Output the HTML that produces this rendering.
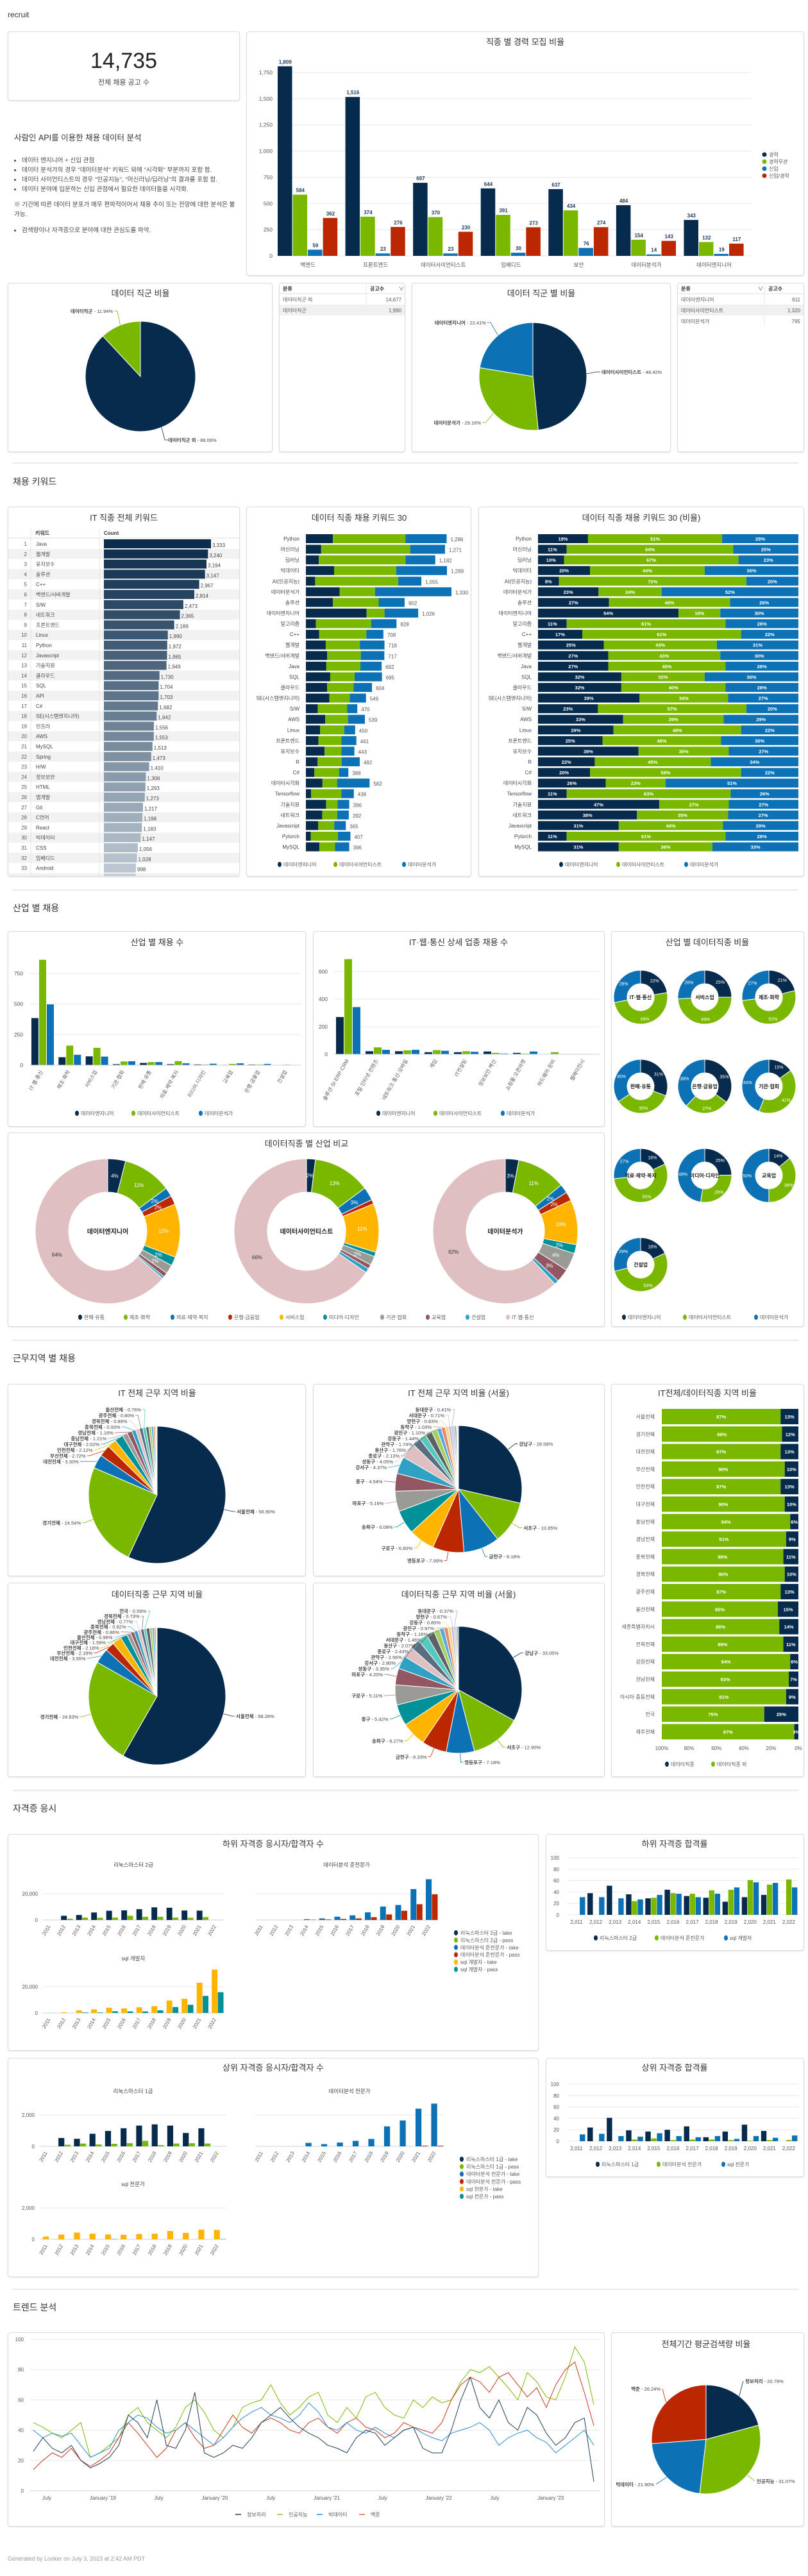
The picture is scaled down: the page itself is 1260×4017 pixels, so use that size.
<!DOCTYPE html>
<html><head><meta charset="utf-8">
<style>
html,body{margin:0;padding:0;background:#fff;}
body{width:1260px;height:4017px;position:relative;overflow:hidden;font-family:"Liberation Sans","Noto Sans CJK KR",sans-serif;color:#333;}
.card{position:absolute;background:#fff;border:1px solid #dcdcdc;border-radius:4px;box-shadow:0 1px 2px rgba(0,0,0,.12);box-sizing:border-box;}
.div{position:absolute;left:20px;width:1225px;height:2px;background:#e6e9ed;}
.sec{position:absolute;left:20px;font-size:14px;color:#333;}
#chart{position:absolute;left:0;top:0;z-index:2;}
.txt{position:absolute;left:20px;top:208px;width:350px;font-size:9.6px;line-height:15px;color:#444;z-index:3}
.txt h3{font-size:12.5px;font-weight:normal;margin:0 0 20px 2px;color:#333}
.txt ul{margin:0;padding-left:14px}
.txt p{margin:9px 0 10px 2px}
</style></head><body>
<div style="position:absolute;left:12px;top:16px;font-size:12px;color:#333">recruit</div>
<div class="card" style="left:12px;top:49px;width:362px;height:108px">
 <div style="position:absolute;left:0;width:100%;top:26px;text-align:center;font-size:34px;color:#222">14,735</div>
 <div style="position:absolute;left:0;width:100%;top:70px;text-align:center;font-size:11px;color:#444">전체 채용 공고 수</div>
</div>
<div class="txt">
<h3>사람인 API를 이용한 채용 데이터 분석</h3>
<ul><li>데이터 엔지니어 + 신입 관점</li><li>데이터 분석가의 경우 "데이터분석" 키워드 외에 "시각화" 부분까지 포함 함.</li><li>데이터 사이언티스트의 경우 "인공지능", "머신러닝/딥러닝"의 결과를 포함 함.</li><li>데이터 분야에 입문하는 신입 관점에서 필요한 데이터들을 시각화.</li></ul>
<p>※ 기간에 따른 데이터 분포가 매우 편파적이어서 채용 추이 또는 전망에 대한 분석은 불가능.</p>
<ul><li>검색량이나 자격증으로 분야에 대한 관심도를 파악.</li></ul>
</div>
<div class="card" style="left:384px;top:49px;width:870px;height:381px"></div>
<div class="card" style="left:12px;top:441px;width:413px;height:264px"></div>
<div class="card" style="left:435px;top:441px;width:197px;height:264px"></div>
<div class="card" style="left:642px;top:441px;width:404px;height:264px"></div>
<div class="card" style="left:1056px;top:441px;width:198px;height:264px"></div>
<div class="div" style="top:721px"></div>
<div class="sec" style="top:741px">채용 키워드</div>
<div class="card" style="left:12px;top:790px;width:362px;height:577px"></div>
<div class="card" style="left:384px;top:790px;width:351px;height:577px"></div>
<div class="card" style="left:746px;top:790px;width:508px;height:577px"></div>
<div class="div" style="top:1387px"></div>
<div class="sec" style="top:1406px">산업 별 채용</div>
<div class="card" style="left:12px;top:1452px;width:465px;height:305px"></div>
<div class="card" style="left:488px;top:1452px;width:455px;height:305px"></div>
<div class="card" style="left:953px;top:1452px;width:301px;height:617px"></div>
<div class="card" style="left:12px;top:1766px;width:931px;height:303px"></div>
<div class="div" style="top:2089px"></div>
<div class="sec" style="top:2108px">근무지역 별 채용</div>
<div class="card" style="left:12px;top:2158px;width:465px;height:300px"></div>
<div class="card" style="left:488px;top:2158px;width:455px;height:300px"></div>
<div class="card" style="left:953px;top:2158px;width:301px;height:613px"></div>
<div class="card" style="left:12px;top:2468px;width:465px;height:303px"></div>
<div class="card" style="left:488px;top:2468px;width:455px;height:303px"></div>
<div class="div" style="top:2791px"></div>
<div class="sec" style="top:2810px">자격증 응시</div>
<div class="card" style="left:12px;top:2860px;width:828px;height:338px"></div>
<div class="card" style="left:851px;top:2860px;width:403px;height:182px"></div>
<div class="card" style="left:12px;top:3209px;width:828px;height:342px"></div>
<div class="card" style="left:851px;top:3209px;width:403px;height:186px"></div>
<div class="div" style="top:3569px"></div>
<div class="sec" style="top:3588px">트렌드 분석</div>
<div class="card" style="left:12px;top:3637px;width:931px;height:303px"></div>
<div class="card" style="left:953px;top:3637px;width:301px;height:303px"></div>
<div style="position:absolute;left:12px;top:3985px;font-size:9px;color:#999">Generated by Looker on July 3, 2023 at 2:42 AM PDT</div>

<svg id="chart" width="1260" height="4017" xmlns="http://www.w3.org/2000/svg" font-family="Liberation Sans, Noto Sans CJK KR, sans-serif">
<defs><clipPath id="kwclip"><rect x="13" y="838" width="360" height="528"/></clipPath></defs>
</svg>
<script>
// ---------- DATA ----------
const careerCats=['백엔드','프론트엔드','데이터사이언티스트','임베디드','보안','데이터분석가','데이터엔지니어'];
const careerExp=[1809,1516,697,644,637,484,343];
const careerAny=[584,374,370,391,434,154,132];
const careerNew=[59,23,23,30,76,14,19];
const careerBoth=[362,276,230,273,274,143,117];
const careerTicks=[0,250,500,750,1000,1250,1500,1750];
const careerSeries=['경력','경력무관','신입','신입/경력'];

const jobGroupNames=['데이터직군 외','데이터직군'];
const jobGroupVals=[14677,1990];
const dataRoleNames=['데이터사이언티스트','데이터분석가','데이터엔지니어'];
const dataRoleVals=[1320,795,611];
const dataRoleTableNames=['데이터엔지니어','데이터사이언티스트','데이터분석가'];
const dataRoleTableVals=[611,1320,795];

const itKeywords=['Java','웹개발','유지보수','솔루션','C++','백엔드/서버개발','S/W','네트워크','프론트엔드','Linux','Python','Javascript','기술지원','클라우드','SQL','API','C#','SE(시스템엔지니어)','인프라','AWS','MySQL','Spring','H/W','정보보안','HTML','앱개발','Git','C언어','React','빅데이터','CSS','임베디드','Android','정보통신'];
const itKeywordCounts=[3333,3240,3194,3147,2967,2814,2473,2365,2189,1990,1972,1965,1949,1730,1704,1703,1682,1642,1556,1553,1513,1473,1410,1306,1293,1273,1217,1198,1183,1147,1056,1028,998,990];

const dkNames=['Python','머신러닝','딥러닝','빅데이터','AI(인공지능)','데이터분석가','솔루션','데이터엔지니어','알고리즘','C++','웹개발','백엔드/서버개발','Java','SQL','클라우드','SE(시스템엔지니어)','S/W','AWS','Linux','프론트엔드','유지보수','R','C#','데이터시각화','Tensorflow','기술지원','네트워크','Javascript','Pytorch','MySQL'];
const dkTotals=[1286,1271,1182,1289,1055,1330,902,1026,828,708,718,717,692,695,604,549,470,539,450,461,443,492,388,582,438,396,392,365,407,396];
const dkEngPct=[19,11,10,20,8,23,27,54,11,17,25,27,27,32,32,39,23,33,29,25,39,22,20,26,11,47,38,31,11,31];
const dkDsPct=[51,64,67,44,72,24,46,16,61,61,43,43,45,32,40,34,57,39,49,46,35,45,58,23,63,27,35,40,61,36];
const dkAnaPct=[29,25,23,36,20,52,26,30,28,22,31,30,28,36,28,27,20,29,22,30,27,34,22,51,26,27,27,29,28,33];

const indCats=['IT·웹·통신','제조·화학','서비스업','기관·협회','판매·유통','의료·제약·복지','미디어·디자인','교육업','은행·금융업','건설업'];
const indEng=[385,65,72,8,18,8,6,3,5,1];
const indDs=[862,160,142,30,25,33,5,10,5,4];
const indAna=[497,85,70,32,25,15,12,15,10,1];
const indTicks=[0,250,500,750];
const itDetCats=['솔루션·SI·ERP·CRM','포털·인터넷·컨텐츠','네트워크·통신·모바일','게임','IT컨설팅','정보보안·백신','쇼핑몰·오픈마켓','하드웨어·장비','웹에이전시'];
const itDetEng=[270,22,22,15,15,20,10,0,0];
const itDetDs=[690,50,28,30,22,10,5,15,0];
const itDetAna=[342,32,32,25,18,5,20,0,0];
const itDetTicks=[0,200,400,600];

const donutInd=['IT·웹·통신','서비스업','제조·화학','판매·유통','은행·금융업','기관·협회','의료·제약·복지','미디어·디자인','교육업','건설업'];
const donutEng=[22,25,21,31,35,15,18,25,14,18];
const donutDs=[49,49,52,35,27,41,55,28,36,53];
const donutAna=[28,26,27,35,38,44,27,48,50,29];

const cmpInd=['판매·유통','제조·화학','의료·제약·복지','은행·금융업','서비스업','미디어·디자인','기관·협회','교육업','건설업','IT·웹·통신'];
const cmpRoles=['데이터엔지니어','데이터사이언티스트','데이터분석가'];
const cmpEng=[4,11,2,2,12,2,2,1,0.5,64];
const cmpDs=[2,13,3,1,11,1,2,1,1,66];
const cmpAna=[3,11,2,2,10,2,4,3,1,62];

const itRegNames=['서울전체','경기전체','대전전체','부산전체','인천전체','대구전체','충남전체','경남전체','충북전체','경북전체','광주전체','울산전체'];
const itRegVals=[56.90,24.54,3.30,2.72,2.12,2.02,1.21,1.16,0.93,0.89,0.80,0.76,0.7,0.6,0.5,0.4,0.3,0.15];
const itSeoulNames=['강남구','서초구','금천구','영등포구','구로구','송파구','마포구','중구','강서구','성동구','종로구','용산구','관악구','강동구','광진구','동작구','양천구','서대문구','동대문구'];
const itSeoulVals=[28.58,10.85,9.18,7.99,6.60,6.08,5.16,4.54,4.37,4.05,2.13,1.76,1.74,1.44,1.10,1.03,0.83,0.71,0.41,0.5,0.4,0.3,0.25];
const dRegNames=['서울전체','경기전체','대전전체','부산전체','인천전체','대구전체','울산전체','광주전체','충북전체','경남전체','경북전체','전국'];
const dRegVals=[58.28,24.93,3.55,2.18,2.18,1.59,0.96,0.86,0.82,0.77,0.73,0.59,0.8,0.6,0.5,0.4,0.26];
const dSeoulNames=['강남구','서초구','영등포구','금천구','송파구','중구','구로구','마포구','성동구','강서구','관악구','종로구','용산구','서대문구','동작구','광진구','강동구','양천구','동대문구'];
const dSeoulVals=[33.05,12.90,7.18,6.33,6.27,5.42,5.11,4.20,3.35,2.80,2.56,2.43,2.07,1.46,1.16,0.97,0.85,0.67,0.37,0.45,0.4];

const regRatioNames=['서울전체','경기전체','대전전체','부산전체','인천전체','대구전체','충남전체','경남전체','충북전체','경북전체','광주전체','울산전체','세종특별자치시','전북전체','강원전체','전남전체','아시아·중동전체','전국','제주전체'];
const regRatioData=[13,12,13,10,13,10,6,9,11,10,13,15,14,11,6,7,9,25,3];
const regRatioAxis=['100%','80%','60%','40%','20%','0%'];

const years=['2011','2012','2013','2014','2015','2016','2017','2018','2019','2020','2021','2022'];
const yearLabels=['2,011','2,012','2,013','2,014','2,015','2,016','2,017','2,018','2,019','2,020','2,021','2,022'];
const lm2Take=[0,3200,3800,5700,7000,7300,8200,9600,9300,7200,7100,0];
const lm2Pass=[0,1000,1800,1700,1800,3200,2400,2400,1800,1700,2200,0];
const adspTake=[0,0,0,600,1200,2500,3500,5800,10200,11400,23500,31000];
const adspPass=[0,0,0,200,400,800,1200,2100,4200,7000,12000,19500];
const sqldTake=[0,500,2000,2700,4000,3500,4300,5200,9500,10800,23000,33000];
const sqldPass=[0,0,400,400,1300,1200,1200,2000,4500,6200,13000,15800];
const lm1Take=[0,530,480,800,980,1150,1320,1400,1320,850,1150,0];
const lm1Pass=[0,100,180,120,160,200,350,80,180,200,180,0];
const adpTake=[0,0,0,220,140,240,350,470,1270,1650,2400,2720];
const adpPass=[0,0,0,0,0,0,0,0,0,0,40,40];
const sqlpTake=[180,300,430,360,310,290,340,360,530,410,620,600];
const sqlpPass=[0,0,0,0,20,0,0,0,0,0,0,20];
const lowRateLm2=[0,38,51,36,29,44,33,30,23,31,35,0];
const lowRateAdsp=[0,0,0,24,30,38,37,43,44,61,53,62];
const lowRateSqld=[31,31,29,27,35,37,31,37,48,57,56,48];
const upRateLm1=[0,24,41,19,17,20,26,7,17,29,18,0];
const upRateAdp=[0,0,0,3,5,2,3,3,2,1,2,2];
const upRateSqlp=[12,13,9,8,14,9,7,9,4,9,6,10];
const rateTicks=[0,20,40,60,80,100];

const trendNames=['정보처리','인공지능','빅데이터','백준'];
const trendXLabels=['July','January \'19','July','January \'20','July','January \'21','July','January \'22','July','January \'23'];
const trendInfo=[26,35,28,25,30,20,15,18,22,30,50,45,35,60,30,28,40,65,25,22,25,30,28,35,45,50,55,48,42,38,35,30,28,25,35,40,38,30,35,40,42,28,25,25,40,60,75,55,48,60,45,40,55,50,38,30,35,45,48,6];
const trendAi=[45,42,38,35,40,45,22,25,30,35,50,55,45,40,35,42,55,60,52,40,35,42,55,58,60,70,58,50,55,62,65,50,45,55,48,62,65,55,50,48,60,55,62,58,60,72,80,78,82,75,68,60,78,72,62,60,75,95,85,57];
const trendBig=[40,35,38,36,38,30,22,25,28,40,45,50,48,42,38,40,45,40,35,30,35,42,48,52,55,50,48,45,50,58,52,42,40,45,40,38,42,38,35,40,42,38,35,33,38,40,42,45,40,30,35,38,40,35,32,25,30,35,40,30];
const trendBaek=[14,20,25,22,28,20,16,20,25,35,45,38,30,22,28,40,45,35,28,30,40,50,42,38,45,48,45,40,38,45,48,42,38,45,48,42,40,35,38,45,42,40,38,45,60,70,75,72,65,75,78,70,62,68,55,70,80,85,65,43];
const trendAvg=[20.79,31.07,21.90,26.24];
const trendTicks=[0,20,40,60,80,100];

// ---------- HELPERS ----------
const NS='http://www.w3.org/2000/svg';
const svg=document.getElementById('chart');
const NAVY='#072b4c',GREEN='#7ab800',BLUE='#0c72b5',RED='#bb2800';
const PAL=[NAVY,GREEN,BLUE,RED,'#ffb400','#029199','#9a9a96','#935761','#2fa1c2','#dfbfc0','#5b6d80','#55c9c0','#5d6166','#a6cf5b','#5ba8de','#e28a6c','#fcd385','#c9b7d6','#8fb2c9','#bbbbbb','#7d8fa0','#d5d5d5','#aaaaaa'];
function add(tag,attrs,name,parent){
 const e=document.createElementNS(NS,tag);
 for(const k in attrs) e.setAttribute(k,attrs[k]);
 
 
 (parent||svg).appendChild(e); return e;}
function txt(x,y,s,o,name,parent){const e=add('text',Object.assign({x:x,y:y,'font-size':9,fill:'#555'},o||{}),name,parent);e.textContent=s;return e;}
function title(x,y,s,name){return txt(x,y,s,{'font-size':13,fill:'#333','text-anchor':'middle'},name);}
function legend(items,cols,xs,y,name,shape){items.forEach((s,i)=>{
 if(shape==='line') add('rect',{x:xs[i]-12,y:y-4,width:9,height:2,fill:cols[i]},name+'-marker');
 else add('ellipse',{cx:xs[i],cy:y-3,rx:3,ry:4,fill:cols[i]},name+'-marker');
 txt(xs[i]+6,y,s,{'font-size':8,fill:'#555'},name+'-label');});}
function arcPath(cx,cy,r0,r1,a0,a1){
 const p=(r,a)=>[cx+r*Math.sin(a),cy-r*Math.cos(a)];
 const lg=(a1-a0)>Math.PI?1:0;
 const [x0,y0]=p(r1,a0),[x1,y1]=p(r1,a1);
 if(r0<=0) return `M${cx},${cy}L${x0},${y0}A${r1},${r1} 0 ${lg} 1 ${x1},${y1}Z`;
 const [x2,y2]=p(r0,a1),[x3,y3]=p(r0,a0);
 return `M${x0},${y0}A${r1},${r1} 0 ${lg} 1 ${x1},${y1}L${x2},${y2}A${r0},${r0} 0 ${lg} 0 ${x3},${y3}Z`;}
function pie(cx,cy,r,ri,vals,cols,name){
 const tot=vals.reduce((a,b)=>a+b,0);let a=0;const out=[];
 vals.forEach((v,i)=>{const da=v/tot*2*Math.PI;
  add('path',{d:arcPath(cx,cy,ri,r,a,a+da),fill:cols[i%cols.length],stroke:'#fff','stroke-width':1},name+'-slice');
  out.push({a0:a,a1:a+da,m:a+da/2,pct:v/tot*100});a+=da;});
 return out;}
function pt(cx,cy,r,a){return [cx+r*Math.sin(a),cy-r*Math.cos(a)];}
function labelText(x,y,nm,val,anchor,name){
 const t=add('text',{x:x,y:y,'font-size':7.5,fill:'#444','text-anchor':anchor},name);
 const b=document.createElementNS(NS,'tspan');b.setAttribute('font-weight','bold');b.textContent=nm;t.appendChild(b);
 const s=document.createElementNS(NS,'tspan');s.textContent=' - '+val;t.appendChild(s);}
function pieLabels(cx,cy,r,arcs,names,vals,thr,sx,sy,dx,dy,cols,name){
 const stack=[];
 names.forEach((n,i)=>{const A=arcs[i];const v=vals[i].toFixed(2)+'%';
  if(vals[i]>=thr){const [px,py]=pt(cx,cy,r,A.m);const [lx,ly]=pt(cx,cy,r+14,A.m);
   const right=Math.sin(A.m)>=0;
   add('polyline',{points:`${px},${py} ${lx},${ly} ${lx+(right?4:-4)},${ly}`,fill:'none',stroke:cols[i%cols.length],'stroke-width':0.8},name+'-leader');
   labelText(lx+(right?6:-6),ly+3,n,v,right?'start':'end',name+'-label');}
  else stack.push(i);});
 stack.reverse().forEach((i,k)=>{const A=arcs[i];const [px,py]=pt(cx,cy,r,A.m);
  const lx=sx-k*dx,ly=sy+k*dy;
  add('polyline',{points:`${lx+2},${ly-3} ${lx+6},${ly-3} ${px},${py}`,fill:'none',stroke:cols[i%cols.length],'stroke-width':0.7},name+'-leader');
  labelText(lx,ly,names[i],vals[i].toFixed(2)+'%','end',name+'-label');});}
function grid(x0,x1,y,name){add('line',{x1:x0,x2:x1,y1:y,y2:y,stroke:'#e8e8e8','stroke-width':1},name);}

// ---------- CAREER BAR CHART ----------
title(819,70,'직종 별 경력 모집 비율','career-chart-title');
(function(){const x0=432,x1=1171,y0=399,yT=113,max=1750;const ys=v=>y0-v/max*(y0-yT);
 careerTicks.forEach(t=>{grid(x0,x1,ys(t),'career-gridline');txt(425,ys(t)+3,t.toLocaleString('en-US'),{'text-anchor':'end','font-size':8.5},'career-y-tick');});
 const gw=(x1-x0)/careerCats.length,bw=gw*0.223;const ser=[careerExp,careerAny,careerNew,careerBoth],cols=[NAVY,GREEN,BLUE,RED];
 careerCats.forEach((c,i)=>{const gx=x0+i*gw+1;
  ser.forEach((s,j)=>{const bx=gx+j*bw;add('rect',{x:bx,y:ys(s[i]),width:bw-1,height:y0-ys(s[i]),fill:cols[j]},'career-bar');
   txt(bx+bw/2,ys(s[i])-4,s[i].toLocaleString('en-US'),{'text-anchor':'middle','font-size':8,'font-weight':'bold',fill:'#1f3a5a'},'career-bar-value');});
  txt(gx+2*bw,416,c,{'text-anchor':'middle','font-size':8.5},'career-x-label');});
 careerSeries.forEach((s,i)=>{add('circle',{cx:1192,cy:241+i*11,r:3.5,fill:cols[i]},'career-legend-marker');txt(1199,244+i*11,s,{'font-size':8},'career-legend-label');});
})();

// ---------- JOB GROUP PIE ----------
title(219,462,'데이터 직군 비율','job-group-pie-title');
(function(){const a=pie(219,587,86,0,jobGroupVals,[NAVY,GREEN],'job-group-pie');
 const tot=jobGroupVals.reduce((x,y)=>x+y,0);
 add('polyline',{points:`${pt(219,587,86,a[1].m).join(',')} 183,485 178,485`,fill:'none',stroke:GREEN,'stroke-width':0.8},'job-group-leader');
 labelText(176,488,jobGroupNames[1],(jobGroupVals[1]/tot*100).toFixed(2)+'%','end','job-group-label');
 add('polyline',{points:`${pt(219,587,86,2.75).join(',')} 257,686 262,686`,fill:'none',stroke:NAVY,'stroke-width':0.8},'job-group-leader');
 labelText(262,689,jobGroupNames[0],(jobGroupVals[0]/tot*100).toFixed(2)+'%','start','job-group-label');})();
// tables
function table(x,w,names,vals,name,sortOnName){
 const y=441;add('line',{x1:x,x2:x+w,y1:y+17,y2:y+17,stroke:'#ddd'},name+'-header-line');
 txt(x+6,y+12,'분류',{'font-size':8,'font-weight':'bold',fill:'#333'},name+'-header');
 const cx=sortOnName?x+136:x+136;
 add('line',{x1:cx,x2:cx,y1:y+2,y2:y+17+names.length*17,stroke:'#e4e4e4'},name+'-col-divider');
 txt(cx+6,y+12,'공고수',{'font-size':8,'font-weight':'bold',fill:'#333'},name+'-header');
 txt(sortOnName?cx-10:x+w-10,y+12,'∨',{'font-size':8,fill:'#333'},name+'-sort-icon');
 names.forEach((n,i)=>{const ry=y+17+i*17;if(i%2===1)add('rect',{x:x+1,y:ry,width:w-2,height:17,fill:'#f0f0f0'},name+'-row-bg');
  txt(x+6,ry+12,n,{'font-size':8,fill:'#555'},name+'-cell');
  txt(x+w-6,ry+12,vals[i].toLocaleString('en-US'),{'font-size':8,fill:'#555','text-anchor':'end'},name+'-cell');});}
table(435,197,jobGroupNames,jobGroupVals,'job-group-table',false);
table(1056,198,dataRoleTableNames,dataRoleTableVals,'data-role-table',true);
title(844,462,'데이터 직군 별 비율','data-role-pie-title');
(function(){const cx=831,cy=587,r=84;const a=pie(cx,cy,r,0,dataRoleVals,[NAVY,GREEN,BLUE],'data-role-pie');
 const tot=dataRoleVals.reduce((x,y)=>x+y,0);const p=dataRoleVals.map(v=>(v/tot*100).toFixed(2)+'%');
 add('polyline',{points:`${pt(cx,cy,r,a[0].m).join(',')} 930,580 936,580`,fill:'none',stroke:NAVY,'stroke-width':0.8},'data-role-leader');
 labelText(938,583,dataRoleNames[0],p[0],'start','data-role-label');
 add('polyline',{points:`${pt(cx,cy,r,a[1].m).join(',')} 757,659 752,659`,fill:'none',stroke:GREEN,'stroke-width':0.8},'data-role-leader');
 labelText(750,662,dataRoleNames[1],p[1],'end','data-role-label');
 add('polyline',{points:`${pt(cx,cy,r,a[2].m).join(',')} 765,503 760,503`,fill:'none',stroke:BLUE,'stroke-width':0.8},'data-role-leader');
 labelText(758,506,dataRoleNames[2],p[2],'end','data-role-label');})();

// ---------- IT KEYWORD TABLE ----------
title(193,812,'IT 직종 전체 키워드','it-keyword-title');
txt(55,834,'키워드',{'font-size':8,'font-weight':'bold',fill:'#333'},'it-keyword-header');
txt(162,834,'Count',{'font-size':8,'font-weight':'bold',fill:'#333'},'it-keyword-header');
add('line',{x1:13,x2:373,y1:839,y2:839,stroke:'#ddd'},'it-keyword-header-line');
(function(){const g=add('g',{'clip-path':'url(#kwclip)'},'it-keyword-rows');const rh=15.8,maxv=Math.max(...itKeywordCounts);
 const c0=[11,44,76],c1=[192,203,212];
 itKeywords.forEach((k,i)=>{const cy=848+i*rh;
  if(i%2===1) add('rect',{x:13,y:cy-rh/2,width:360,height:rh,fill:'#f2f2f2'},'it-keyword-row-bg',g);
  const t=i/(itKeywords.length-1);const col=`rgb(${c0.map((c,j)=>Math.round(c+(c1[j]-c)*t)).join(',')})`;
  txt(42,cy+3,String(i+1),{'font-size':8,'text-anchor':'end'},'it-keyword-rank',g);
  txt(56,cy+3,k,{'font-size':8,fill:'#444'},'it-keyword-name',g);
  const w=itKeywordCounts[i]/maxv*167;
  add('rect',{x:162,y:cy-7,width:w,height:14,fill:col},'it-keyword-bar',g);
  txt(164+w,cy+5,itKeywordCounts[i].toLocaleString('en-US'),{'font-size':8,fill:'#444'},'it-keyword-value',g);});
 add('line',{x1:48,x2:48,y1:823,y2:1366,stroke:'#e4e4e4'},'it-keyword-col-divider');
 add('line',{x1:155,x2:155,y1:823,y2:1366,stroke:'#e4e4e4'},'it-keyword-col-divider');})();

// ---------- DATA KEYWORD STACKED ----------
title(560,812,'데이터 직종 채용 키워드 30','data-keyword-title');
title(1000,812,'데이터 직종 채용 키워드 30 (비율)','data-keyword-ratio-title');
(function(){const step=16.57,sc=227/1330,cols=[NAVY,GREEN,BLUE];
 dkNames.forEach((n,i)=>{const cy=840+i*step;const tot=dkTotals[i];const ps=[dkEngPct[i],dkDsPct[i],dkAnaPct[i]];const psum=ps[0]+ps[1]+ps[2];
  txt(467,cy+3,n,{'font-size':8,'text-anchor':'end',fill:'#444'},'data-keyword-label');
  let x=477;ps.forEach((p,j)=>{const w=tot*p/psum*sc;add('rect',{x:x,y:cy-7,width:w,height:14,fill:cols[j]},'data-keyword-bar');x+=w;});
  txt(x+6,cy+4,tot.toLocaleString('en-US'),{'font-size':8,fill:'#555'},'data-keyword-value');
  txt(829,cy+3,n,{'font-size':8,'text-anchor':'end',fill:'#444'},'data-keyword-ratio-label');
  let x2=839;ps.forEach((p,j)=>{const w=p/psum*406;add('rect',{x:x2,y:cy-7,width:w,height:14,fill:cols[j]},'data-keyword-ratio-bar');
   txt(x2+w/2,cy+3,p+'%',{'font-size':7.5,'font-weight':'bold',fill:'#fff','text-anchor':'middle'},'data-keyword-ratio-pct');x2+=w;});});
 legend(cmpRoles,cols,[436,523,630],1351,'data-keyword-legend');
 legend(cmpRoles,cols,[875,964,1070],1351,'data-keyword-ratio-legend');})();

// ---------- GROUPED VERTICAL BARS ----------
function vbars(o){const {x0,x1,y0,yT,max,ticks,cats,series,cols,bw,name}=o;const ys=v=>y0-v/max*(y0-yT);
 ticks.forEach(t=>{grid(x0,x1,ys(t),name+'-gridline');if(o.tickX)txt(o.tickX,ys(t)+3,t.toLocaleString('en-US'),{'text-anchor':'end','font-size':8.5},name+'-y-tick');});
 const gw=(x1-x0)/cats.length;
 cats.forEach((c,i)=>{const gx=x0+i*gw+(o.pad||3);
  series.forEach((s,j)=>{if(s[i]>0)add('rect',{x:gx+j*bw,y:ys(s[i]),width:bw-1,height:y0-ys(s[i]),fill:cols[j]},name+'-bar');});
  const lx=x0+i*gw+gw/2,ly=y0+(o.labDy||10);
  txt(lx,ly,o.labels?o.labels[i]:c,{'text-anchor':'end','font-size':8,transform:`rotate(-60 ${lx} ${ly})`},name+'-x-label');});
 add('line',{x1:x0,x2:x1,y1:y0,y2:y0,stroke:'#c8d0e0'},name+'-axis');}
title(245,1474,'산업 별 채용 수','industry-title');
vbars({x0:46,x1:469,y0:1661,yT:1518,max:750,ticks:indTicks,cats:indCats,series:[indEng,indDs,indAna],cols:[NAVY,GREEN,BLUE],bw:12,tickX:36,name:'industry'});
legend(cmpRoles,[NAVY,GREEN,BLUE],[120,208,313],1739,'industry-legend');
title(715,1474,'IT·웹·통신 상세 업종 채용 수','it-detail-title');
vbars({x0:521,x1:935,y0:1644,yT:1515,max:600,ticks:itDetTicks,cats:itDetCats,series:[itDetEng,itDetDs,itDetAna],cols:[NAVY,GREEN,BLUE],bw:13,tickX:511,name:'it-detail'});
legend(cmpRoles,[NAVY,GREEN,BLUE],[590,679,784],1739,'it-detail-legend');

// ---------- SMALL DONUTS ----------
title(1103,1474,'산업 별 데이터직종 비율','industry-donut-title');
donutInd.forEach((n,i)=>{const cx=999+(i%3)*100,cy=1555+Math.floor(i/3)*139;
 const a=pie(cx,cy,42,21,[donutEng[i],donutDs[i],donutAna[i]],[NAVY,GREEN,BLUE],'industry-donut');
 [donutEng[i],donutDs[i],donutAna[i]].forEach((v,j)=>{const [px,py]=pt(cx,cy,34,a[j].m);txt(px,py+3,v+'%',{'font-size':7,fill:'#fff','text-anchor':'middle'},'industry-donut-pct');});
 txt(cx,cy+3,n,{'font-size':8,'font-weight':'bold',fill:'#222','text-anchor':'middle'},'industry-donut-center');});
legend(cmpRoles,[NAVY,GREEN,BLUE],[973,1068,1179],2057,'industry-donut-legend');

// ---------- BIG DONUTS ----------
title(478,1788,'데이터직종 별 산업 비교','role-industry-title');
[cmpEng,cmpDs,cmpAna].forEach((vals,k)=>{const cx=168+k*310,cy=1920;
 const a=pie(cx,cy,113,61,vals,PAL,'role-industry-donut');
 vals.forEach((v,j)=>{if(v>=1.5){const [px,py]=pt(cx,cy,87,a[j].m);txt(px,py+3,Math.round(v)+'%',{'font-size':8,fill:j===9?'#333':'#fff','text-anchor':'middle'},'role-industry-pct');}});
 txt(cx,cy+4,cmpRoles[k],{'font-size':10,'font-weight':'bold',fill:'#222','text-anchor':'middle'},'role-industry-center');});
legend(cmpInd,PAL,[125,196,269,359,439,507,596,667,729,792],2057,'role-industry-legend');

// ---------- REGION PIES ----------
title(245,2177,'IT 전체 근무 지역 비율','it-region-title');
pieLabels(245,2331,107,pie(245,2331,107,0,itRegVals,PAL,'it-region-pie'),itRegNames,itRegVals,4,220,2201,10.8,9,PAL,'it-region');
title(715,2177,'IT 전체 근무 지역 비율 (서울)','it-seoul-title');
pieLabels(715,2322,99,pie(715,2322,99,0,itSeoulVals,PAL,'it-seoul-pie'),itSeoulNames,itSeoulVals,4.5,703,2201,10,9,PAL,'it-seoul');
title(245,2491,'데이터직종 근무 지역 비율','data-region-title');
pieLabels(245,2645,107,pie(245,2645,107,0,dRegVals,PAL,'data-region-pie'),dRegNames,dRegVals,4,228,2515,10.5,8.2,PAL,'data-region');
title(715,2491,'데이터직종 근무 지역 비율 (서울)','data-seoul-title');
pieLabels(715,2635,99,pie(715,2635,99,0,dSeoulVals,PAL,'data-seoul-pie'),dSeoulNames,dSeoulVals,4.5,707,2515,10,9,PAL,'data-seoul');

// ---------- REGION RATIO ----------
title(1103,2177,'IT전체/데이터직종 지역 비율','region-ratio-title');
(function(){const x0=1032,x1=1245,W=x1-x0;
 regRatioNames.forEach((n,i)=>{const cy=2209+i*27.3;const d=regRatioData[i];const wg=(100-d)/100*W;
  add('rect',{x:x0,y:cy-12,width:wg,height:24,fill:GREEN},'region-ratio-bar-other');
  add('rect',{x:x0+wg,y:cy-12,width:W-wg,height:24,fill:NAVY},'region-ratio-bar-data');
  txt(x0+wg/2,cy+3,(100-d)+'%',{'font-size':7.5,'font-weight':'bold',fill:'#fff','text-anchor':'middle'},'region-ratio-pct');
  txt(x0+wg+(W-wg)/2,cy+3,d+'%',{'font-size':7.5,'font-weight':'bold',fill:'#fff','text-anchor':'middle'},'region-ratio-pct');
  txt(1021,cy+3,n,{'font-size':8,'text-anchor':'end',fill:'#555'},'region-ratio-label');});
 regRatioAxis.forEach((s,i)=>txt(x0+i*W/5,2729,s,{'font-size':8,'text-anchor':'middle'},'region-ratio-x-tick'));
 legend(['데이터직종','데이터직종 외'],[NAVY,GREEN],[1040,1112],2754,'region-ratio-legend');})();

// ---------- CERT SMALL MULTIPLES ----------
function certChart(o){const {x0,x1,y0,yT,tick,a,b,ca,cb,name}=o;const ys=v=>y0-v/tick*(y0-yT);
 grid(x0,x1,yT,name+'-gridline');add('line',{x1:x0,x2:x1,y1:y0,y2:y0,stroke:'#c8d0e0'},name+'-axis');
 if(o.ticks){txt(x0-8,yT+3,tick.toLocaleString('en-US'),{'text-anchor':'end','font-size':8},name+'-y-tick');txt(x0-8,y0+3,'0',{'text-anchor':'end','font-size':8},name+'-y-tick');}
 txt((x0+x1)/2,o.ty,o.title,{'font-size':8.5,'text-anchor':'middle',fill:'#444'},name+'-title');
 const gw=(x1-x0)/years.length;
 years.forEach((yv,i)=>{const gx=x0+i*gw+gw*0.2;
  if(a[i]>0)add('rect',{x:gx,y:ys(a[i]),width:gw*0.38,height:y0-ys(a[i]),fill:ca},name+'-bar-take');
  if(b[i]>0)add('rect',{x:gx+gw*0.4,y:ys(b[i]),width:gw*0.38,height:y0-ys(b[i]),fill:cb},name+'-bar-pass');
  const lx=x0+i*gw+gw/2,ly=y0+10;txt(lx,ly,yv,{'font-size':8,'text-anchor':'end',transform:`rotate(-60 ${lx} ${ly})`},name+'-x-label');});}
txt(426,2880,'하위 자격증 응시자/합격자 수',{'font-size':13,fill:'#333','text-anchor':'middle'},'lower-cert-title');
certChart({x0:67,x1:349,y0:2994,yT:2953,tick:20000,a:lm2Take,b:lm2Pass,ca:NAVY,cb:GREEN,ticks:1,ty:2911,title:'리눅스마스터 2급',name:'lm2'});
certChart({x0:398,x1:683,y0:2994,yT:2953,tick:20000,a:adspTake,b:adspPass,ca:BLUE,cb:RED,ty:2911,title:'데이터분석 준전문가',name:'adsp'});
certChart({x0:67,x1:349,y0:3139,yT:3098,tick:20000,a:sqldTake,b:sqldPass,ca:'#ffb400',cb:'#029199',ticks:1,ty:3057,title:'sql 개발자',name:'sqld'});
const lowLeg=['리눅스마스터 2급 - take','리눅스마스터 2급 - pass','데이터분석 준전문가 - take','데이터분석 준전문가 - pass','sql 개발자 - take','sql 개발자 - pass'];
const legCols=[NAVY,GREEN,BLUE,RED,'#ffb400','#029199'];
lowLeg.forEach((s,i)=>{add('ellipse',{cx:711,cy:3014+i*11.4,rx:3,ry:4,fill:legCols[i]},'lower-cert-legend-marker');txt(718,3017+i*11.4,s,{'font-size':8},'lower-cert-legend-label');});
txt(426,3229,'상위 자격증 응시자/합격자 수',{'font-size':13,fill:'#333','text-anchor':'middle'},'upper-cert-title');
certChart({x0:62,x1:353,y0:3347,yT:3298,tick:2000,a:lm1Take,b:lm1Pass,ca:NAVY,cb:GREEN,ticks:1,ty:3264,title:'리눅스마스터 1급',name:'lm1'});
certChart({x0:398,x1:692,y0:3347,yT:3298,tick:2000,a:adpTake,b:adpPass,ca:BLUE,cb:RED,ty:3264,title:'데이터분석 전문가',name:'adp'});
certChart({x0:62,x1:353,y0:3492,yT:3443,tick:2000,a:sqlpTake,b:sqlpPass,ca:'#ffb400',cb:'#029199',ticks:1,ty:3409,title:'sql 전문가',name:'sqlp'});
const upLeg=['리눅스마스터 1급 - take','리눅스마스터 1급 - pass','데이터분석 전문가 - take','데이터분석 전문가 - pass','sql 전문가 - take','sql 전문가 - pass'];
upLeg.forEach((s,i)=>{add('ellipse',{cx:720,cy:3367+i*11.6,rx:3,ry:4,fill:legCols[i]},'upper-cert-legend-marker');txt(727,3370+i*11.6,s,{'font-size':8},'upper-cert-legend-label');});

function rateChart(o){const {x0,x1,y0,yT,ser,name}=o;const ys=v=>y0-v/100*(y0-yT);
 rateTicks.forEach(t=>{grid(x0,x1,ys(t),name+'-gridline');txt(x0-12,ys(t)+3,String(t),{'text-anchor':'end','font-size':8},name+'-y-tick');});
 const gw=(x1-x0)/years.length,cols=[NAVY,GREEN,BLUE];
 years.forEach((y,i)=>{ser.forEach((s,j)=>{if(s[i]>0)add('rect',{x:x0+i*gw+2+j*gw*0.3,y:ys(s[i]),width:gw*0.28,height:y0-ys(s[i]),fill:cols[j]},name+'-bar');});
  txt(x0+i*gw+gw/2,y0+14,yearLabels[i],{'font-size':8,'text-anchor':'middle'},name+'-x-label');});
 legend(o.leg,cols,o.lx,o.ly,name+'-legend');}
title(1052,2880,'하위 자격증 합격률','lower-pass-title');
rateChart({x0:884,x1:1245,y0:2986,yT:2897,ser:[lowRateLm2,lowRateAdsp,lowRateSqld],leg:['리눅스마스터 2급','데이터분석 준전문가','sql 개발자'],lx:[929,1024,1132],ly:3025,name:'lower-pass'});
title(1052,3229,'상위 자격증 합격률','upper-pass-title');
rateChart({x0:884,x1:1245,y0:3339,yT:3250,ser:[upRateLm1,upRateAdp,upRateSqlp],leg:['리눅스마스터 1급','데이터분석 전문가','sql 전문가'],lx:[932,1027,1128],ly:3378,name:'upper-pass'});

// ---------- TREND LINES ----------
(function(){const x0=47,x1=935,y0=3884,yT=3648;const ys=v=>y0-v/100*(y0-yT);
 trendTicks.forEach(t=>{add('line',{x1:x0,x2:x1,y1:ys(t),y2:ys(t),stroke:t===0?'#c8d0e0':'#e8e8e8'},'trend-gridline');txt(37,ys(t)+3,String(t),{'font-size':8,'text-anchor':'end'},'trend-y-tick');});
 trendXLabels.forEach((s,i)=>txt(73+i*87.3,3898,s,{'font-size':8,'text-anchor':'middle'},'trend-x-label'));
 const cols=['#1c3b57',GREEN,'#2a8ad0','#c8361a'];const ser=[trendInfo,trendAi,trendBig,trendBaek];
 const xs=i=>52+i*(926-52)/(trendInfo.length-1);
 [1,3,2,0].forEach(k=>{add('path',{d:ser[k].map((v,i)=>(i?'L':'M')+xs(i).toFixed(1)+','+ys(v).toFixed(1)).join(''),fill:'none',stroke:cols[k],'stroke-width':1},'trend-line-'+k);});
 legend(trendNames,['#5a6e80','#a5d05c','#5ba8de','#e28a6c'],[379,444,506,572],3924,'trend-legend','line');})();
title(1101,3660,'전체기간 평균검색량 비율','trend-pie-title');
(function(){const cx=1101,cy=3804,r=85;const a=pie(cx,cy,r,0,trendAvg,[NAVY,GREEN,BLUE,RED],'trend-pie');
 const lp=[[1162,3716,'start'],[1180,3872,'start'],[1020,3877,'end'],[1030,3728,'end']];
 trendNames.forEach((n,i)=>{const [px,py]=pt(cx,cy,r,a[i].m);const [lx,ly,an]=lp[i];
  add('polyline',{points:`${px},${py} ${lx+(an==='start'?-3:3)},${ly-3}`,fill:'none',stroke:[NAVY,GREEN,BLUE,RED][i],'stroke-width':0.8},'trend-pie-leader');
  labelText(lx,ly,n,trendAvg[i].toFixed(2)+'%',an,'trend-pie-label');});})();
</script>
</body></html>
